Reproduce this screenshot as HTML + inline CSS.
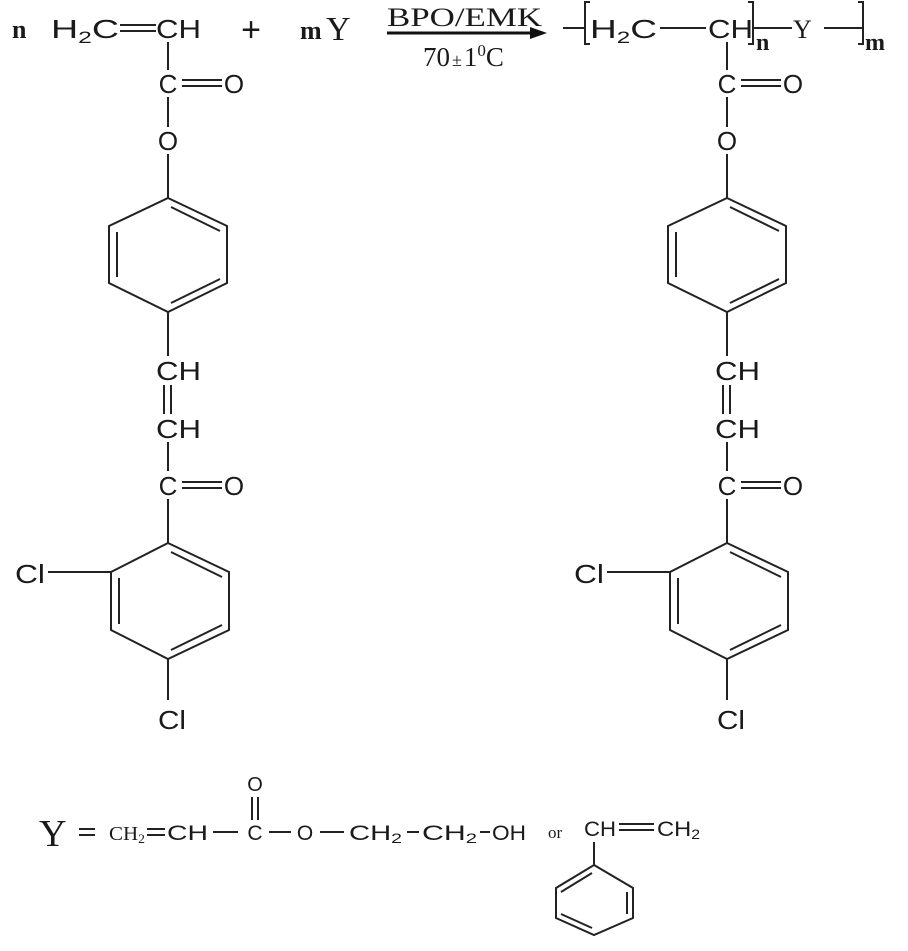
<!DOCTYPE html>
<html><head><meta charset="utf-8"><style>
html,body{margin:0;padding:0;background:#fff;}
svg{display:block;}
text{font-family:"Liberation Sans",sans-serif;fill:#1a1a1a;}
.s{font-family:"Liberation Serif",serif;}
</style></head><body>
<svg width="908" height="951" viewBox="0 0 908 951" xmlns="http://www.w3.org/2000/svg">
<defs>
<g id="col" stroke="#222" stroke-width="2" fill="none">
  <line x1="168" y1="42" x2="168" y2="70"/>
  <line x1="182" y1="80" x2="222" y2="80"/><line x1="182" y1="86" x2="222" y2="86"/>
  <line x1="168" y1="97" x2="168" y2="127"/>
  <line x1="168" y1="154" x2="168" y2="198"/>
  <polygon points="168,198 227,226 227,283 168,312 109,283 109,226"/>
  <line x1="171" y1="207" x2="220" y2="231"/>
  <line x1="171" y1="303" x2="220" y2="279"/>
  <line x1="117" y1="232" x2="117" y2="277"/>
  <line x1="168" y1="312" x2="168" y2="356"/>
  <line x1="164" y1="385" x2="164" y2="414"/><line x1="171" y1="385" x2="171" y2="414"/>
  <line x1="168" y1="442" x2="168" y2="471"/>
  <line x1="182" y1="482" x2="222" y2="482"/><line x1="182" y1="488" x2="222" y2="488"/>
  <line x1="168" y1="499" x2="168" y2="543"/>
  <polygon points="168,543 229,572 229,630 168,659 111,630 111,572"/>
  <line x1="171" y1="552" x2="222" y2="577"/>
  <line x1="171" y1="650" x2="222" y2="625"/>
  <line x1="119" y1="578" x2="119" y2="624"/>
  <line x1="48" y1="572" x2="111" y2="572"/>
  <line x1="168" y1="659" x2="168" y2="700"/>
</g>
<g id="lab" font-size="26">
  <text x="168" y="93" text-anchor="middle">C</text>
  <text x="234" y="93" text-anchor="middle">O</text>
  <text x="168" y="150" text-anchor="middle">O</text>
  <text x="156" y="380" textLength="45" lengthAdjust="spacingAndGlyphs">CH</text>
  <text x="156" y="438" textLength="45" lengthAdjust="spacingAndGlyphs">CH</text>
  <text x="168" y="495" text-anchor="middle">C</text>
  <text x="234" y="495" text-anchor="middle">O</text>
  <text x="15" y="583" textLength="30" lengthAdjust="spacingAndGlyphs">Cl</text>
  <text x="158" y="729" textLength="28" lengthAdjust="spacingAndGlyphs">Cl</text>
</g>
</defs>

<use href="#col"/><use href="#lab"/>
<g transform="translate(559,0)"><use href="#col"/><use href="#lab"/></g>

<!-- top row left -->
<text x="12" y="38" font-size="26" font-weight="bold" class="s">n</text>
<text x="51" y="38" font-size="26" textLength="68" lengthAdjust="spacingAndGlyphs">H<tspan font-size="17" dy="5">2</tspan><tspan dy="-5">C</tspan></text>
<g stroke="#222" stroke-width="2"><line x1="120" y1="25" x2="156" y2="25"/><line x1="120" y1="31" x2="156" y2="31"/></g>
<text x="156" y="38" font-size="26" textLength="45" lengthAdjust="spacingAndGlyphs">CH</text>
<text x="251" y="41" font-size="34" text-anchor="middle">+</text>
<text x="300" y="39" font-size="26" font-weight="bold" class="s">m</text>
<text x="326" y="40" font-size="34" class="s">Y</text>
<text x="387" y="26" font-size="26" class="s" textLength="155" lengthAdjust="spacingAndGlyphs">BPO/EMK</text>
<line x1="387" y1="33" x2="535" y2="33" stroke="#111" stroke-width="3"/>
<polygon points="530,27 547,33 530,39" fill="#111"/>
<text x="423" y="66" font-size="27" class="s">70<tspan font-size="18" dx="2">±</tspan><tspan dx="2">1</tspan><tspan font-size="17" dy="-10">0</tspan><tspan dy="10">C</tspan></text>

<!-- top row right -->
<g stroke="#222" stroke-width="2" fill="none">
  <line x1="563" y1="28" x2="585" y2="28"/>
  <polyline points="590,2 585,2 585,44 590,44"/>
  <line x1="660" y1="28" x2="706" y2="28"/>
  <polyline points="748,2 753,2 753,44 748,44"/>
  <line x1="753" y1="28" x2="792" y2="28"/>
  <line x1="824" y1="28" x2="863" y2="28"/>
  <polyline points="858,2 863,2 863,44 858,44"/>
</g>
<text x="590" y="38" font-size="26" textLength="67" lengthAdjust="spacingAndGlyphs">H<tspan font-size="17" dy="5">2</tspan><tspan dy="-5">C</tspan></text>
<text x="708" y="38" font-size="26" textLength="45" lengthAdjust="spacingAndGlyphs">CH</text>
<text x="756" y="50" font-size="24" font-weight="bold" class="s">n</text>
<text x="793" y="38" font-size="26" class="s">Y</text>
<text x="865" y="50" font-size="24" font-weight="bold" class="s">m</text>

<!-- bottom definition -->
<text x="39" y="846" font-size="38" class="s">Y</text>
<g stroke="#222" stroke-width="2"><line x1="79" y1="829" x2="95" y2="829"/><line x1="79" y1="835" x2="95" y2="835"/></g>
<text x="109" y="840" font-size="20" class="s" textLength="36" lengthAdjust="spacingAndGlyphs">CH<tspan font-size="13" dy="3">2</tspan></text>
<g stroke="#222" stroke-width="2" fill="none">
  <line x1="147" y1="829" x2="165" y2="829"/><line x1="147" y1="835" x2="165" y2="835"/>
  <line x1="213" y1="832" x2="238" y2="832"/>
  <line x1="252" y1="797" x2="252" y2="820"/><line x1="258" y1="797" x2="258" y2="820"/>
  <line x1="269" y1="832" x2="291" y2="832"/>
  <line x1="320" y1="832" x2="344" y2="832"/>
  <line x1="407" y1="832" x2="419" y2="832"/>
  <line x1="480" y1="832" x2="490" y2="832"/>
  <line x1="594" y1="842" x2="594" y2="865"/>
  <line x1="619" y1="824" x2="654" y2="824"/><line x1="619" y1="830" x2="654" y2="830"/>
  <polygon points="594,865 633,888 633,918 594,935 556,918 556,888"/>
  <line x1="561" y1="892" x2="592" y2="873"/>
  <line x1="627" y1="892" x2="627" y2="914"/>
  <line x1="561" y1="914" x2="592" y2="928"/>
</g>
<text x="167" y="840" font-size="21" textLength="41" lengthAdjust="spacingAndGlyphs">CH</text>
<text x="255" y="840" font-size="21" text-anchor="middle">C</text>
<text x="255" y="791" font-size="20" text-anchor="middle">O</text>
<text x="305" y="840" font-size="21" text-anchor="middle">O</text>
<text x="349" y="840" font-size="21" textLength="53" lengthAdjust="spacingAndGlyphs">CH<tspan font-size="14" dy="3">2</tspan></text>
<text x="422" y="840" font-size="21" textLength="55" lengthAdjust="spacingAndGlyphs">CH<tspan font-size="14" dy="3">2</tspan></text>
<text x="492" y="840" font-size="21" textLength="34" lengthAdjust="spacingAndGlyphs">OH</text>
<text x="548" y="838" font-size="17" class="s">or</text>
<text x="584" y="836" font-size="21" textLength="32" lengthAdjust="spacingAndGlyphs">CH</text>
<text x="657" y="836" font-size="21" textLength="43" lengthAdjust="spacingAndGlyphs">CH<tspan font-size="14" dy="3">2</tspan></text>
</svg>
</body></html>
